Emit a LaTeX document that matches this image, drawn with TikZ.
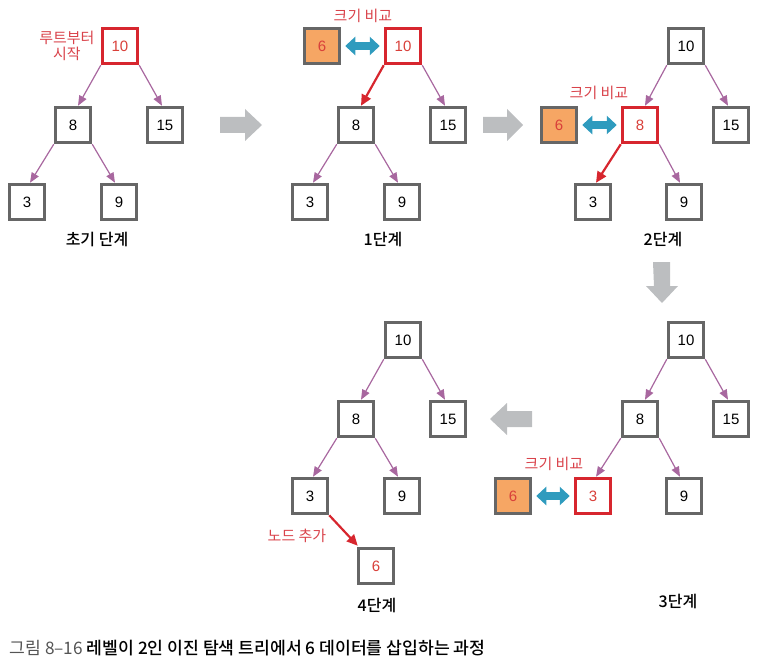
\documentclass[tikz,border=0pt]{standalone}
\usepackage{fontspec}
\setmainfont{Liberation Sans}
\newfontfamily\kr{Noto Sans CJK KR}
\newfontfamily\krb{Noto Sans CJK KR Medium}
\usetikzlibrary{arrows.meta}
\definecolor{boxgray}{HTML}{666666}
\definecolor{hired}{HTML}{D7262E}
\definecolor{txtred}{HTML}{D9403A}
\definecolor{lblred}{HTML}{D9434B}
\definecolor{edgepurple}{HTML}{A8679F}
\definecolor{bluearr}{HTML}{2F9BBE}
\definecolor{orangefill}{HTML}{F6A664}
\definecolor{arrgray}{HTML}{BCBEC0}
\definecolor{capgray}{HTML}{555555}
\tikzset{
  tbox/.style={draw=boxgray, line width=3.5pt, minimum size=35pt, inner sep=0pt, fill=white, font=\fontsize{15}{15}\selectfont},
  redbox/.style={tbox, draw=hired, text=txtred},
  newbox/.style={tbox, fill=orangefill, text=txtred},
  addbox/.style={tbox, text=txtred},
  tedge/.style={draw=edgepurple, line width=1.2pt, -{Triangle[length=10pt,width=8pt]}},
  redge/.style={draw=hired, line width=2.2pt, -{Triangle[length=11pt,width=10pt]}},
  cmp/.style={draw=bluearr, line width=8pt, {Triangle[length=10pt,width=18pt]}-{Triangle[length=10pt,width=18pt]}, shorten <=4pt, shorten >=4pt},
  steplbl/.style={font=\krb\fontsize{16}{16}\selectfont},
  redlbl/.style={font=\kr\fontsize{15}{16.5}\selectfont, text=lblred, align=center},
  garrow/.style={fill=arrgray}
}
\begin{document}
\begin{tikzpicture}[x=1pt,y=-1pt]
\useasboundingbox (0,0) rectangle (763,663);

% ---------- Tree 0 (initial) ----------
\node[redbox, text=txtred] (a10) at (120,46) {10};
\node[tbox] (a8) at (73,125) {8};
\node[tbox] (a15) at (165,125) {15};
\node[tbox] (a3) at (27,202) {3};
\node[tbox] (a9) at (119,202) {9};
\draw[tedge] (a10.south west) -- ([xshift=5pt]a8.north);
\draw[tedge] (a10.south east) -- ([xshift=-3pt]a15.north);
\draw[tedge] (a8.south west) -- ([xshift=3pt]a3.north);
\draw[tedge] (a8.south east) -- ([xshift=-4pt]a9.north);
\node[redlbl, anchor=east] (alab) at (98,46) {루트부터\\시작};
\node[steplbl] (astep) at (97,240) {초기 단계};

% ---------- Tree 1 ----------
\node[redbox] (b10) at (403,46) {10};
\node[tbox] (b8) at (356,125) {8};
\node[tbox] (b15) at (448,125) {15};
\node[tbox] (b3) at (310,202) {3};
\node[tbox] (b9) at (402,202) {9};
\node[newbox] (b6) at (322,46) {6};
\draw[redge] (b10.south west) -- ([xshift=5pt]b8.north);
\draw[tedge] (b10.south east) -- ([xshift=-3pt]b15.north);
\draw[tedge] (b8.south west) -- ([xshift=3pt]b3.north);
\draw[tedge] (b8.south east) -- ([xshift=-4pt]b9.north);
\draw[cmp] (b6.east) -- (b10.west);
\node[redlbl] (blab) at (363,16) {크기 비교};
\node[steplbl] (bstep) at (383,240) {1단계};

% ---------- Tree 2 ----------
\node[tbox] (c10) at (686,46) {10};
\node[redbox] (c8) at (640,125) {8};
\node[tbox] (c15) at (731,125) {15};
\node[tbox] (c3) at (593,202) {3};
\node[tbox] (c9) at (684,202) {9};
\node[newbox] (c6) at (559,125) {6};
\draw[tedge] (c10.south west) -- ([xshift=5pt]c8.north);
\draw[tedge] (c10.south east) -- ([xshift=-3pt]c15.north);
\draw[redge] (c8.south west) -- ([xshift=3pt]c3.north);
\draw[tedge] (c8.south east) -- ([xshift=-4pt]c9.north);
\draw[cmp] (c6.east) -- (c8.west);
\node[redlbl] (clab) at (599,93) {크기 비교};
\node[steplbl] (cstep) at (663,240) {2단계};

% ---------- Tree 3 ----------
\node[tbox] (d10) at (686,340) {10};
\node[tbox] (d8) at (640,419) {8};
\node[tbox] (d15) at (731,419) {15};
\node[redbox] (d3) at (593,496) {3};
\node[tbox] (d9) at (684,496) {9};
\node[newbox] (d6) at (513,496) {6};
\draw[tedge] (d10.south west) -- ([xshift=5pt]d8.north);
\draw[tedge] (d10.south east) -- ([xshift=-3pt]d15.north);
\draw[tedge] (d8.south west) -- ([xshift=3pt]d3.north);
\draw[tedge] (d8.south east) -- ([xshift=-4pt]d9.north);
\draw[cmp] (d6.east) -- (d3.west);
\node[redlbl] (dlab) at (554,464) {크기 비교};
\node[steplbl] (dstep) at (678,601) {3단계};

% ---------- Tree 4 ----------
\node[tbox] (e10) at (403,340) {10};
\node[tbox] (e8) at (356,419) {8};
\node[tbox] (e15) at (448,419) {15};
\node[tbox] (e3) at (310,496) {3};
\node[tbox] (e9) at (402,496) {9};
\node[addbox] (e6) at (376,566) {6};
\draw[tedge] (e10.south west) -- ([xshift=5pt]e8.north);
\draw[tedge] (e10.south east) -- ([xshift=-3pt]e15.north);
\draw[tedge] (e8.south west) -- ([xshift=3pt]e3.north);
\draw[tedge] (e8.south east) -- ([xshift=-4pt]e9.north);
\draw[redge] (e3.south east) -- ([xshift=1pt,yshift=1pt]e6.north west);
\node[redlbl] (elab) at (297,536) {노드 추가};
\node[steplbl] (estep) at (377,605) {4단계};

% ---------- gray block arrows ----------
\fill[garrow] (220,117) -- (245,117) -- (245,109) -- (262,125) -- (245,141) -- (245,133) -- (220,133) -- cycle;
\fill[garrow] (483,117) -- (507,117) -- (507,109) -- (523,125) -- (507,141) -- (507,133) -- (483,133) -- cycle;
\fill[garrow] (653,262) -- (670,262) -- (670,286) -- (678,286) -- (662,303) -- (646,286) -- (654,286) -- cycle;
\fill[garrow] (532,411) -- (507,411) -- (507,403) -- (490,419) -- (507,435) -- (507,427) -- (532,427) -- cycle;

% ---------- caption ----------
\node[anchor=west, font=\kr\fontsize{17.2}{18}\selectfont] (cap) at (6,648)
  {\textcolor{capgray}{그림 8–16} \krb 레벨이 2인 이진 탐색 트리에서 6 데이터를 삽입하는 과정};
\end{tikzpicture}
\end{document}
